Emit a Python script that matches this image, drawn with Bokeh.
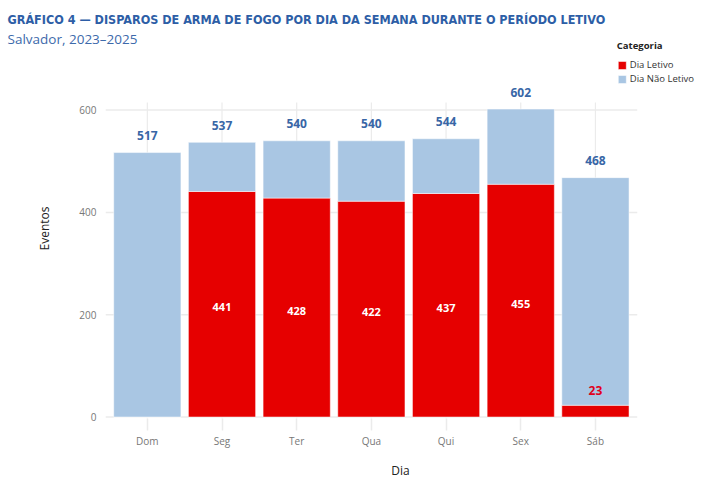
from bokeh.plotting import figure
from bokeh.models import (ColumnDataSource, Range1d, Title, Legend, LegendItem, FixedTicker)
from bokeh.core.properties import value
from bokeh.embed import file_html
from bokeh.resources import INLINE

# ---- data ----
dias = ["Dom", "Seg", "Ter", "Qua", "Qui", "Sex", "Sáb"]
letivo = [0, 441, 428, 422, 437, 455, 23]
total = [517, 537, 540, 540, 544, 602, 468]
nao_letivo = [t - l for t, l in zip(total, letivo)]
y_ticks = [0, 200, 400, 600]

# ---- layout constants (panel extents in data units) ----
X_LO, X_HI = -0.56, 7.34
Y_LO, Y_HI = -2.9, 740
PANEL_RIGHT, PANEL_TOP = 6.56, 615

RED = "#e60000"
BLUE = "#a9c6e3"
TXT_BLUE = "#3866a6"
TITLE_BLUE = "#2d5ea6"
GRID = "#ebebeb"

pos = list(range(len(dias)))
src = ColumnDataSource(dict(x=pos, letivo=letivo, nao=nao_letivo, total=total))

p = figure(x_range=Range1d(X_LO, X_HI), y_range=Range1d(Y_LO, Y_HI),
           min_border_left=105, min_border_right=0, min_border_top=0, min_border_bottom=63,
           width=695, height=481, title=None,
           output_backend="svg", toolbar_location=None)

# panel grid lines (limited to the panel area)
p.segment(x0=X_LO, x1=PANEL_RIGHT, y0=y_ticks, y1=y_ticks, line_color=GRID, line_width=1.5)
p.segment(x0=pos, x1=pos, y0=Y_LO, y1=PANEL_TOP, line_color=GRID, line_width=1.2)
p.xgrid.visible = False
p.ygrid.visible = False

r = p.vbar_stack(["letivo", "nao"], x="x", width=0.9, source=src,
                 color=[RED, BLUE], line_color="white", line_width=1, line_alpha=0.5)

# value labels
inside = ColumnDataSource(dict(
    x=[i for i, l in zip(pos, letivo) if l >= 50],
    y=[l / 2 for l in letivo if l >= 50],
    t=[str(l) for l in letivo if l >= 50]))
p.text(x="x", y="y", text="t", source=inside, text_align="center", text_baseline="middle",
       text_font=value("Open Sans"), text_font_style="bold", text_font_size="11px",
       text_color="white", y_offset=3)

small = ColumnDataSource(dict(
    x=[i for i, l in zip(pos, letivo) if 0 < l < 50],
    y=[l for l in letivo if 0 < l < 50],
    t=[str(l) for l in letivo if 0 < l < 50]))
p.text(x="x", y="y", text="t", source=small, text_align="center", text_baseline="middle",
       text_font=value("Open Sans"), text_font_style="bold", text_font_size="12px",
       text_color="#e0001b", y_offset=-15)

tot = ColumnDataSource(dict(x=pos, y=total, t=[str(t) for t in total]))
p.text(x="x", y="y", text="t", source=tot, text_align="center", text_baseline="middle",
       text_font=value("Open Sans"), text_font_style="bold", text_font_size="12px",
       text_color=TXT_BLUE, y_offset=-17)

# axes
p.outline_line_color = None
p.xaxis.axis_line_color = None
p.yaxis.axis_line_color = None
p.xaxis.ticker = FixedTicker(ticks=pos)
p.xaxis.major_label_overrides = {i: d for i, d in zip(pos, dias)}
p.xaxis.minor_tick_line_color = None
p.xaxis.major_tick_line_color = GRID
p.xaxis.major_tick_line_width = 1.5
p.xaxis.major_tick_in = 0
p.xaxis.major_tick_out = 12
p.yaxis.major_tick_line_color = None
p.yaxis.minor_tick_line_color = None
p.yaxis.ticker = FixedTicker(ticks=y_ticks)
p.xaxis.major_label_standoff = 3
p.yaxis.major_label_standoff = 3
for ax in (p.xaxis, p.yaxis):
    ax.major_label_text_font = "Open Sans"
    ax.major_label_text_font_size = "10px"
    ax.major_label_text_color = "#777777"
    ax.axis_label_text_font = "Open Sans"
    ax.axis_label_text_font_size = "12px"
    ax.axis_label_text_font_style = "normal"
    ax.axis_label_text_color = "#222222"
p.xaxis.axis_label = "Dia"
p.yaxis.axis_label = "Eventos"
p.xaxis.axis_label_standoff = 11
p.yaxis.axis_label_standoff = 23

# legend
legend = Legend(items=[LegendItem(label="Dia Letivo", renderers=[r[0]]),
                       LegendItem(label="Dia Não Letivo", renderers=[r[1]])],
                location="top_right", title="Categoria",
                title_text_font="Open Sans", title_text_font_style="bold",
                title_text_font_size="9.5px", title_text_color="#222222",
                label_text_font="Open Sans", label_text_font_size="9.5px",
                label_text_color="#333333",
                glyph_width=10, glyph_height=10, label_height=10, spacing=1,
                padding=0, margin=1, label_standoff=3, title_standoff=6,
                border_line_color=None, background_fill_alpha=0)
p.add_layout(legend)

# titles (first added = closest to the frame)
p.add_layout(Title(text="Salvador, 2023–2025", text_font="Open Sans",
                   text_font_size="13.5px", text_font_style="normal",
                   text_color="#3d6aab", align="left", offset=-98,
                   vertical_align="bottom", standoff=-19), "above")
p.add_layout(Title(text="GRÁFICO 4 — DISPAROS DE ARMA DE FOGO POR DIA DA SEMANA DURANTE O PERÍODO LETIVO",
                   text_font="Liberation Sans Narrow, DejaVu Sans Condensed, sans-serif",
                   text_font_style="bold", text_font_size="12.5px",
                   text_color=TITLE_BLUE, align="left", offset=-98,
                   vertical_align="middle", standoff=20), "above")

open("out.html", "w").write(file_html(p, INLINE))
